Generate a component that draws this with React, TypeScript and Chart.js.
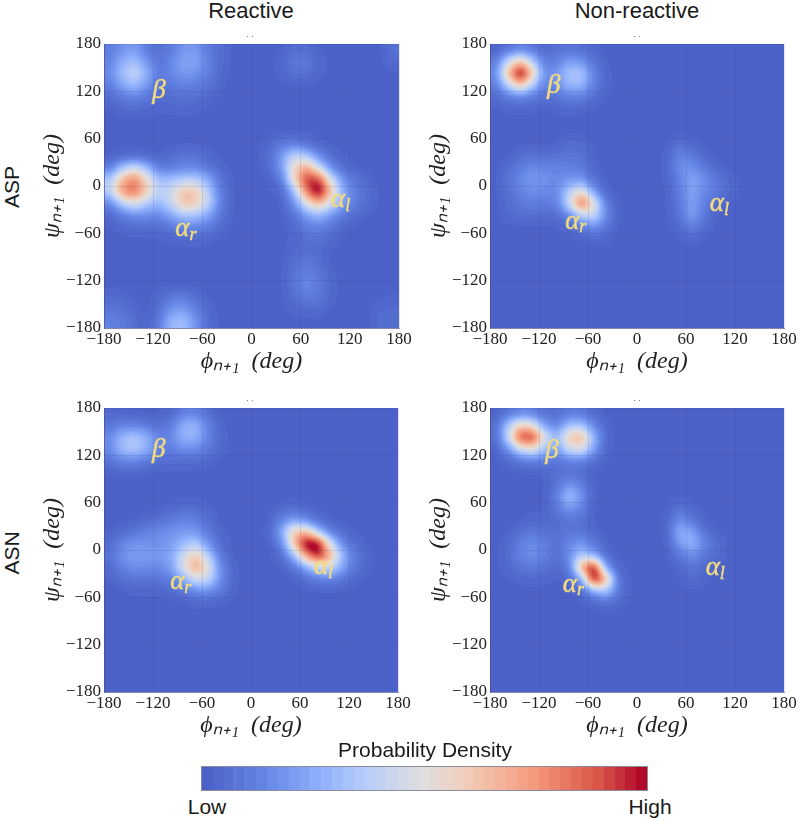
import React, { useEffect, useRef } from "react";
import { Chart, registerables } from "chart.js";

Chart.register(...registerables);

const phiCenters = [-172.5,-157.5,-142.5,-127.5,-112.5,-97.5,-82.5,-67.5,-52.5,-37.5,-22.5,-7.5,7.5,22.5,37.5,52.5,67.5,82.5,97.5,112.5,127.5,142.5,157.5,172.5];
const psiCenters = [172.5,157.5,142.5,127.5,112.5,97.5,82.5,67.5,52.5,37.5,22.5,7.5,-7.5,-22.5,-37.5,-52.5,-67.5,-82.5,-97.5,-112.5,-127.5,-142.5,-157.5,-172.5];
const tickValues = [-180, -120, -60, 0, 60, 120, 180];
const colorbarLevels = [0,0.025,0.05,0.075,0.1,0.125,0.15,0.175,0.2,0.225,0.25,0.275,0.3,0.325,0.35,0.375,0.4,0.425,0.45,0.475,0.5,0.525,0.55,0.575,0.6,0.625,0.65,0.675,0.7,0.725,0.75,0.775,0.8,0.825,0.85,0.875,0.9,0.925,0.95,0.975,1];

const zz = [0,0,0,0,0,0,0,0,0,0,0,0,0,0,0,0,0,0,0,0,0,0,0,0];

const aspReactive = [
  [8,14,18,8,4,8,16,16,8,3,0,0,0,0,0,3,3,0,0,0,0,0,0,5],
  [10,22,28,15,5,12,20,20,10,3,0,0,0,0,2,8,8,2,0,0,0,0,0,3],
  [12,28,36,24,6,12,17,15,9,2,0,0,0,0,1,5,5,1,0,0,0,0,0,0],
  [8,20,28,17,5,8,10,9,5,1,0,0,0,0,0,0,0,0,0,0,0,0,0,0],
  [3,7,10,6,3,4,5,4,2,0,0,0,0,0,0,0,0,0,0,0,0,0,0,0],
  [0,2,3,2,1,1,2,1,0,0,0,0,0,0,0,0,0,0,0,0,0,0,0,0],
  zz,
  zz,
  [0,0,0,0,0,0,0,0,0,0,0,0,0,2,7,9,5,1,0,0,0,0,0,0],
  [0,1,2,1,0,3,6,6,2,0,0,0,0,4,18,36,30,12,3,0,0,0,0,0],
  [8,28,40,26,8,8,11,12,6,1,0,0,0,2,18,50,65,38,12,3,0,0,0,0],
  [30,60,72,48,26,28,32,32,22,6,0,0,0,0,8,50,84,84,40,14,6,1,0,0],
  [32,68,76,52,32,38,56,54,32,8,0,0,0,0,2,25,74,98,55,20,8,3,0,0],
  [10,32,42,30,24,36,56,54,34,10,0,0,0,0,0,14,42,60,38,18,8,3,0,0],
  [2,8,14,13,12,20,30,28,20,6,0,0,0,0,0,5,18,24,15,7,2,0,0,0],
  [0,2,3,3,4,7,11,11,8,3,0,0,0,0,0,2,9,11,6,1,0,0,0,0],
  [0,0,0,0,0,1,2,2,1,0,0,0,0,0,0,1,4,5,2,0,0,0,0,0],
  [0,0,0,0,0,0,0,0,0,0,0,0,0,0,0,2,4,3,0,0,0,0,0,0],
  [0,0,0,0,0,0,0,0,0,0,0,0,0,0,0,4,7,4,0,0,0,0,0,0],
  [0,0,0,0,0,0,0,0,0,0,0,0,0,0,0,6,11,6,1,0,0,0,0,0],
  [0,0,0,0,0,0,0,0,0,0,0,0,0,0,0,6,12,8,1,0,0,0,0,0],
  [3,2,0,0,2,8,9,4,0,0,0,0,0,0,0,4,8,7,1,0,0,0,0,1],
  [6,5,2,0,4,16,18,10,2,0,0,0,0,0,0,1,2,2,0,0,0,0,3,3],
  [10,8,3,0,8,26,28,14,3,0,0,0,0,0,0,0,0,0,0,0,0,0,3,4],
];

const aspNonReactive = [
  [0,5,10,6,2,4,5,4,1,0,0,0,0,0,0,0,0,0,0,0,0,0,0,0],
  [8,36,55,30,7,10,18,15,5,0,0,0,0,0,0,0,0,0,0,0,0,0,0,0],
  [12,58,100,55,12,16,30,30,10,1,0,0,0,0,0,0,0,0,0,0,0,0,0,0],
  [8,34,56,30,9,14,26,26,9,1,0,0,0,0,0,0,0,0,0,0,0,0,0,0],
  [2,7,10,7,4,6,9,9,4,0,0,0,0,0,0,0,0,0,0,0,0,0,0,0],
  [0,1,1,1,0,1,2,1,0,0,0,0,0,0,0,0,0,0,0,0,0,0,0,0],
  zz,
  zz,
  [0,0,0,0,0,0,4,3,0,0,0,0,0,0,0,5,1,0,0,0,0,0,0,0],
  [0,0,3,5,4,5,6,5,0,0,0,0,0,0,1,12,8,1,0,0,0,0,0,0],
  [0,3,9,13,11,10,10,8,1,0,0,0,0,0,1,14,16,7,1,0,0,0,0,0],
  [0,5,13,17,15,12,15,16,4,0,0,0,0,0,1,10,20,15,7,2,0,0,0,0],
  [0,4,10,14,12,12,32,48,16,1,0,0,0,0,0,9,20,12,8,3,0,0,0,0],
  [0,3,7,9,8,10,38,82,45,8,0,0,0,0,0,7,20,9,2,0,0,0,0,0],
  [0,2,4,4,3,3,12,32,38,12,0,0,0,0,0,5,20,7,0,0,0,0,0,0],
  [0,0,0,0,0,0,2,8,14,6,0,0,0,0,0,2,10,3,0,0,0,0,0,0],
  [0,0,0,0,0,0,0,0,2,1,0,0,0,0,0,0,2,0,0,0,0,0,0,0],
  zz, zz, zz, zz, zz, zz, zz,
];

const asnReactive = [
  [2,1,0,0,0,2,9,10,3,0,0,0,0,0,0,0,0,0,0,0,0,0,0,0],
  [6,10,10,7,4,8,24,26,10,1,0,0,0,0,0,0,0,0,0,0,0,0,0,0],
  [12,26,30,24,10,12,24,24,11,2,0,0,0,0,0,0,0,0,0,0,0,0,0,0],
  [12,28,32,24,9,9,14,13,7,2,0,0,0,0,0,0,0,0,0,0,0,0,0,0],
  [5,10,11,7,4,3,3,3,1,0,0,0,0,0,0,0,0,0,0,0,0,0,0,0],
  [0,1,1,0,0,0,0,0,0,0,0,0,0,0,0,0,0,0,0,0,0,0,0,0],
  zz,
  zz,
  [0,0,0,0,0,1,3,3,1,0,0,0,0,0,1,3,1,0,0,0,0,0,0,0],
  [0,0,0,2,4,8,11,10,3,0,0,0,0,0,10,18,11,3,0,0,0,0,0,0],
  [0,2,6,10,13,15,16,16,8,1,0,0,0,1,20,55,58,28,9,2,0,0,0,0],
  [3,11,16,15,14,17,26,32,15,3,0,0,0,0,10,55,98,96,38,12,3,0,0,0],
  [5,15,18,17,16,20,38,55,32,7,0,0,0,0,3,24,66,90,62,24,8,1,0,0],
  [2,10,14,13,12,18,42,65,45,14,1,0,0,0,0,5,20,36,36,20,6,1,0,0],
  [0,4,6,6,6,9,22,40,38,14,1,0,0,0,0,0,3,8,10,5,1,0,0,0],
  [0,0,1,1,1,2,6,12,14,8,1,0,0,0,0,0,0,0,0,0,0,0,0,0],
  [0,0,0,0,0,0,0,1,1,0,0,0,0,0,0,0,0,0,0,0,0,0,0,0],
  zz, zz, zz, zz, zz, zz, zz,
];

const asnNonReactive = [
  [0,5,10,9,4,3,7,7,2,0,0,0,0,0,0,0,0,0,0,0,0,0,0,0],
  [3,30,52,46,16,10,28,28,10,1,0,0,0,0,0,0,0,0,0,0,0,0,0,0],
  [3,36,84,86,42,24,56,62,24,2,0,0,0,0,0,0,0,0,0,0,0,0,0,0],
  [0,14,38,46,28,16,40,44,18,1,0,0,0,0,0,0,0,0,0,0,0,0,0,0],
  [0,2,6,9,8,6,9,9,3,0,0,0,0,0,0,0,0,0,0,0,0,0,0,0],
  [0,0,0,0,1,3,5,3,0,0,0,0,0,0,0,0,0,0,0,0,0,0,0,0],
  [0,0,0,0,0,6,15,9,0,0,0,0,0,0,0,0,0,0,0,0,0,0,0,0],
  [0,0,0,0,0,10,30,15,0,0,0,0,0,0,0,0,0,0,0,0,0,0,0,0],
  [0,0,0,0,0,7,17,10,0,0,0,0,0,0,0,5,1,0,0,0,0,0,0,0],
  [0,0,0,2,1,3,6,4,0,0,0,0,0,0,1,14,6,0,0,0,0,0,0,0],
  [0,0,4,7,5,4,6,6,1,0,0,0,0,0,1,24,20,5,0,0,0,0,0,0],
  [0,2,10,13,9,3,12,16,7,0,0,0,0,0,0,18,26,11,4,0,0,0,0,0],
  [0,3,11,14,9,4,14,30,20,3,0,0,0,0,0,6,14,7,3,0,0,0,0,0],
  [0,2,6,8,5,2,8,66,96,14,1,0,0,0,0,2,6,2,0,0,0,0,0,0],
  [0,0,1,2,1,0,2,18,98,62,4,0,0,0,0,0,4,1,0,0,0,0,0,0],
  [0,0,0,0,0,0,0,2,20,30,8,0,0,0,0,0,0,0,0,0,0,0,0,0],
  [0,0,0,0,0,0,0,0,1,3,1,0,0,0,0,0,0,0,0,0,0,0,0,0],
  zz, zz, zz, zz, zz, zz, zz,
];

const marksAspReactive = [["β", "", -113, 120], ["α", "r", -80, -55], ["α", "l", 110, -18]];
const marksAspNonReactive = [["β", "", -102, 127], ["α", "r", -75, -45], ["α", "l", 102, -23]];
const marksAsnReactive = [["β", "", -113, 127], ["α", "r", -86, -41], ["α", "l", 90, -22]];
const marksAsnNonReactive = [["β", "", -104, 126], ["α", "r", -78, -44], ["α", "l", 97, -23]];

const cmapStops: number[][] = [
  [0, 76, 98, 200],
  [0.12, 98, 130, 226],
  [0.25, 138, 172, 250],
  [0.36, 182, 204, 250],
  [0.5, 224, 222, 222],
  [0.6, 241, 204, 184],
  [0.75, 245, 155, 125],
  [0.9, 216, 85, 72],
  [1, 178, 10, 42],
];
const LEVELS = 48;
const PEAK_GAIN = 1.15;
const BLUR_SIGMA = 5.5;

function cmap(t: number): number[] {
  const v = Math.max(0, Math.min(1, t));
  for (let i = 1; i < cmapStops.length; i++) {
    if (v <= cmapStops[i][0]) {
      const a = cmapStops[i - 1];
      const b = cmapStops[i];
      const f = (v - a[0]) / (b[0] - a[0]);
      return [a[1] + (b[1] - a[1]) * f, a[2] + (b[2] - a[2]) * f, a[3] + (b[3] - a[3]) * f];
    }
  }
  return cmapStops[cmapStops.length - 1].slice(1);
}

function gaussianSmooth(src: Float32Array, w: number, h: number, sigma: number): Float32Array {
  const rad = Math.ceil(sigma * 3);
  const kernel: number[] = [];
  let sum = 0;
  for (let i = -rad; i <= rad; i++) {
    const k = Math.exp((-i * i) / (2 * sigma * sigma));
    kernel.push(k);
    sum += k;
  }
  const tmp = new Float32Array(w * h);
  const out = new Float32Array(w * h);
  for (let y = 0; y < h; y++) {
    for (let x = 0; x < w; x++) {
      let acc = 0;
      for (let i = -rad; i <= rad; i++) {
        acc += src[y * w + Math.max(0, Math.min(w - 1, x + i))] * kernel[i + rad];
      }
      tmp[y * w + x] = acc / sum;
    }
  }
  for (let y = 0; y < h; y++) {
    for (let x = 0; x < w; x++) {
      let acc = 0;
      for (let i = -rad; i <= rad; i++) {
        acc += tmp[Math.max(0, Math.min(h - 1, y + i)) * w + x] * kernel[i + rad];
      }
      out[y * w + x] = acc / sum;
    }
  }
  return out;
}

// The scatter cells are painted as a scalar (grey) field; this smooths that field
// and maps it through the coolwarm-like colour scale, as a filled contour would.
const densityShader = {
  id: "densityShader",
  afterDatasetsDraw(chart: any) {
    const a = chart.chartArea;
    const x0 = Math.round(a.left);
    const y0 = Math.round(a.top);
    const w = Math.round(a.right) - x0;
    const h = Math.round(a.bottom) - y0;
    const img = chart.ctx.getImageData(x0, y0, w, h);
    const field = new Float32Array(w * h);
    for (let i = 0; i < w * h; i++) field[i] = img.data[i * 4] / 255;
    const smooth = gaussianSmooth(field, w, h, BLUR_SIGMA);
    for (let i = 0; i < w * h; i++) {
      const t = Math.ceil(Math.min(1, smooth[i] * PEAK_GAIN) * LEVELS - 0.35) / LEVELS;
      const c = cmap(t);
      img.data[i * 4] = c[0];
      img.data[i * 4 + 1] = c[1];
      img.data[i * 4 + 2] = c[2];
      img.data[i * 4 + 3] = 255;
    }
    chart.ctx.putImageData(img, x0, y0);
  },
};

const regionLabels = {
  id: "regionLabels",
  afterDraw(chart: any) {
    const marks = chart.options.plugins.regionLabels.marks;
    const ctx = chart.ctx;
    ctx.save();
    ctx.fillStyle = "#f1da80";
    ctx.strokeStyle = "#f1da80";
    ctx.lineWidth = 0.5;
    ctx.textBaseline = "middle";
    ctx.textAlign = "left";
    for (const [main, sub, phi, psi] of marks) {
      const x = chart.scales.x.getPixelForValue(phi);
      const y = chart.scales.y.getPixelForValue(psi);
      ctx.font = "italic 27px 'Liberation Serif'";
      const mw = ctx.measureText(main).width;
      const sw = sub ? 7 : 0;
      ctx.fillText(main, x - (mw + sw) / 2, y);
      ctx.strokeText(main, x - (mw + sw) / 2, y);
      if (sub) {
        ctx.font = "italic 18px 'Liberation Serif'";
        ctx.fillText(sub, x - (mw + sw) / 2 + mw, y + 6);
        ctx.strokeText(sub, x - (mw + sw) / 2 + mw, y + 6);
      }
    }
    ctx.restore();
  },
};

const PAD_LEFT = 70;
const PAD_TOP = 14;
const PAD_RIGHT = 20;
const X_AXIS_H = 46;

function Panel({ left, top, w, h, rows, marks }: any) {
  const ref = useRef<HTMLCanvasElement>(null);
  useEffect(() => {
    const points = rows.flatMap((row: number[], r: number) =>
      row.map((v: number, c: number) => ({ x: phiCenters[c], y: psiCenters[r], v }))
    );
    const tickFont = { family: "'Liberation Serif'", size: 17 };
    const gridOpts = { color: "rgba(40,52,125,0.13)", lineWidth: 1, z: 1, drawTicks: false, tickLength: 0 };
    const borderOpts = { display: true, color: "rgba(70,80,140,0.6)", z: 1 };
    const fmt = (v: any) => String(v).replace("-", "\u2212");
    const chart = new Chart(ref.current!, {
      type: "scatter",
      data: {
        datasets: [
          {
            data: points,
            clip: 0,
            pointStyle: "rect",
            pointRadius: 9,
            pointHoverRadius: 9,
            pointBorderWidth: 0,
            pointBackgroundColor: (ctx: any) => {
              const g = Math.round((Math.min(100, ctx.raw?.v ?? 0) / 100) * 255);
              return `rgb(${g},${g},${g})`;
            },
          },
        ],
      },
      options: {
        animation: false,
        responsive: false,
        devicePixelRatio: 1,
        layout: { padding: { left: 0, top: PAD_TOP, right: PAD_RIGHT, bottom: 0 } },
        plugins: {
          legend: { display: false },
          tooltip: { enabled: false },
          regionLabels: { marks },
        } as any,
        scales: {
          x: {
            type: "linear",
            min: -180,
            max: 180,
            afterFit: (s: any) => { s.height = X_AXIS_H; },
            afterBuildTicks: (s: any) => { s.ticks = tickValues.map((value) => ({ value })); },
            grid: gridOpts,
            border: borderOpts,
            ticks: { autoSkip: false, maxRotation: 0, padding: 1, color: "#222", font: tickFont, callback: fmt },
            title: {
              display: true,
              text: "ϕₙ₊₁  (deg)",
              color: "#222",
              font: { family: "'Liberation Serif'", size: 24, style: "italic" },
              padding: { top: 0, bottom: -2 },
            },
          },
          y: {
            type: "linear",
            min: -180,
            max: 180,
            afterFit: (s: any) => { s.width = PAD_LEFT; },
            afterBuildTicks: (s: any) => { s.ticks = tickValues.map((value) => ({ value })); },
            grid: gridOpts,
            border: borderOpts,
            ticks: { autoSkip: false, padding: 3, color: "#222", font: tickFont, callback: fmt },
            title: {
              display: true,
              text: "ψₙ₊₁  (deg)",
              color: "#222",
              font: { family: "'Liberation Serif'", size: 24, style: "italic" },
              padding: { top: 4, bottom: 0 },
            },
          },
        },
      } as any,
      plugins: [densityShader, regionLabels],
    });
    return () => chart.destroy();
  }, []);
  const cw = PAD_LEFT + w + PAD_RIGHT;
  const ch = PAD_TOP + h + X_AXIS_H;
  return (
    <canvas
      ref={ref}
      width={cw}
      height={ch}
      style={{ position: "absolute", left: left - PAD_LEFT, top: top - PAD_TOP, width: cw, height: ch }}
    />
  );
}

function Colorbar() {
  const ref = useRef<HTMLCanvasElement>(null);
  useEffect(() => {
    const colors = colorbarLevels.map((t) => {
      const c = cmap(t).map(Math.round);
      return `rgb(${c[0]},${c[1]},${c[2]})`;
    });
    const chart = new Chart(ref.current!, {
      type: "bar",
      data: {
        labels: colorbarLevels.map(String),
        datasets: [
          {
            data: colorbarLevels.map(() => 1),
            backgroundColor: colors,
            borderColor: colors,
            borderWidth: 1,
            barPercentage: 1,
            categoryPercentage: 1,
          },
        ],
      },
      options: {
        animation: false,
        responsive: false,
        devicePixelRatio: 1,
        layout: { padding: 0 },
        plugins: { legend: { display: false }, tooltip: { enabled: false } },
        scales: {
          x: { display: false },
          y: { display: false, min: 0, max: 1 },
        },
      } as any,
    });
    return () => chart.destroy();
  }, []);
  return (
    <canvas
      ref={ref}
      width={445}
      height={23}
      style={{ position: "absolute", left: 202, top: 767, width: 445, height: 23, outline: "1px solid rgba(90,90,110,0.7)" }}
    />
  );
}

const sans = "'Liberation Sans', Arial, sans-serif";

function Label({ x, y, size = 21, rotate = false, text, color = "#1a1a1a" }: any) {
  return (
    <div
      style={{
        position: "absolute",
        left: x,
        top: y,
        transform: `translate(-50%,-50%)${rotate ? " rotate(-90deg)" : ""}`,
        font: `${size}px ${sans}`,
        color,
        whiteSpace: "nowrap",
      }}
    >
      {text}
    </div>
  );
}

export default function App() {
  return (
    <div style={{ position: "absolute", left: 0, top: 0, width: 800, height: 821, background: "#fff", overflow: "hidden" }}>
      <Panel left={104} top={44} w={295} h={284} rows={aspReactive} marks={marksAspReactive} />
      <Panel left={490} top={44} w={294} h={284} rows={aspNonReactive} marks={marksAspNonReactive} />
      <Panel left={104} top={408} w={294} h={284} rows={asnReactive} marks={marksAsnReactive} />
      <Panel left={490} top={408} w={294} h={284} rows={asnNonReactive} marks={marksAsnNonReactive} />
      <Colorbar />
      <Label x={251} y={11} size={22} text="Reactive" />
      <Label x={637} y={11} size={22} text="Non-reactive" />
      <Label x={12} y={187} rotate text="ASP" />
      <Label x={12} y={553} rotate text="ASN" />
      <Label x={425} y={750} text="Probability Density" />
      <Label x={207} y={807} text="Low" />
      <Label x={650} y={807} text="High" />
      <Label x={250} y={36} size={8} color="#555" text="· ·" />
      <Label x={637} y={36} size={8} color="#555" text="· ·" />
      <Label x={250} y={400} size={8} color="#555" text="· ·" />
      <Label x={637} y={400} size={8} color="#555" text="· ·" />
    </div>
  );
}
